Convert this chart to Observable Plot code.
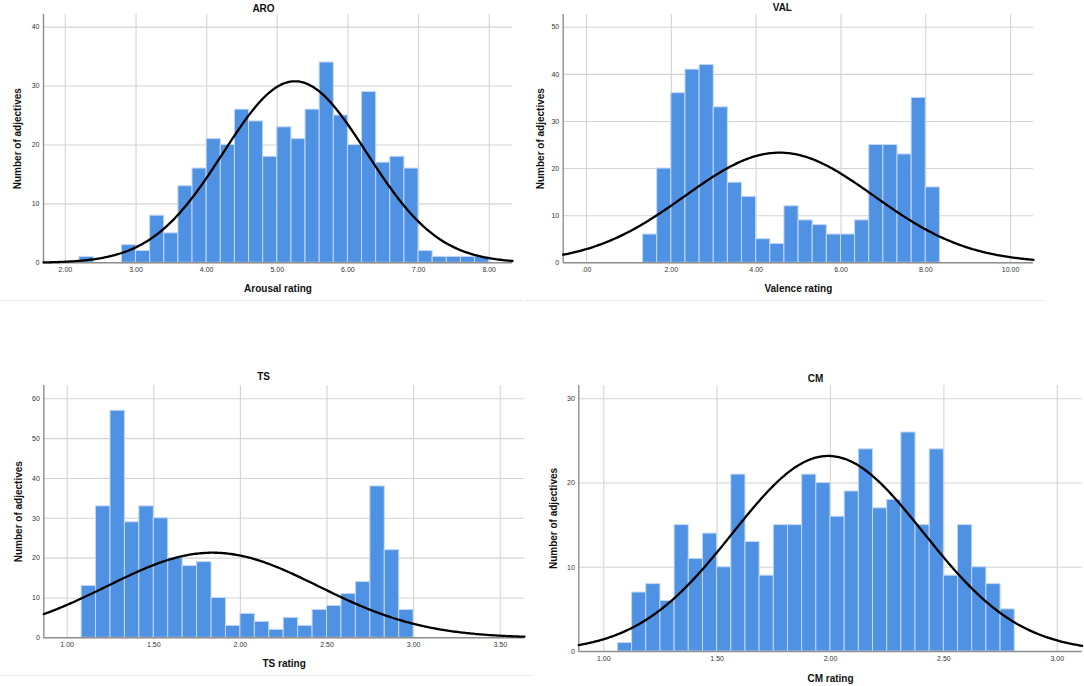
<!DOCTYPE html>
<html>
<head>
<meta charset="utf-8">
<script src="https://cdn.jsdelivr.net/npm/d3@7"></script>
<script src="https://cdn.jsdelivr.net/npm/@observablehq/plot@0.6"></script>
<style>
  html, body { margin: 0; padding: 0; background: #fff; }
  #root { position: relative; width: 1084px; height: 686px; overflow: hidden; font-family: "Liberation Sans", Arial, sans-serif; }
  .panel { position: absolute; }
  .sep { position: absolute; height: 0; border-top: 1.5px solid #e8e8e8; }
</style>
</head>
<body>
<div id="root"></div>
<script>
// ---------- data ----------
// ARO: bins of width 0.2 starting at 2.2
const aroCounts = [1, 0, 0, 3, 2, 8, 5, 13, 16, 21, 20, 26, 24, 18, 23, 21, 26, 34, 25, 20, 29, 17, 18, 16, 2, 1, 1, 1, 1];
const aroBinStart = 2.2;
const aroBinWidth = 0.2;
const aroFit = { mean: 5.25, sd: 1.015 };
const aroXTicks = [2, 3, 4, 5, 6, 7, 8];
const aroYTicks = [0, 10, 20, 30, 40];

// VAL: bins of width 1/3 starting at 4/3
const valCounts = [6, 20, 36, 41, 42, 33, 17, 14, 5, 4, 12, 9, 8, 6, 6, 9, 25, 25, 23, 35, 16];
const valBinStart = 4 / 3;
const valBinWidth = 1 / 3;
const valFit = { mean: 4.55, sd: 2.23 };
const valXTicks = [0, 2, 4, 6, 8, 10];
const valYTicks = [0, 10, 20, 30, 40, 50];

// TS: bins of width 1/12 starting at 13/12
const tsCounts = [13, 33, 57, 29, 33, 30, 20, 18, 19, 10, 3, 6, 4, 2, 5, 3, 7, 8, 11, 14, 38, 22, 7];
const tsBinStart = 13 / 12;
const tsBinWidth = 1 / 12;
const tsFit = { mean: 1.84, sd: 0.61 };
const tsXTicks = [1, 1.5, 2, 2.5, 3, 3.5];
const tsYTicks = [0, 10, 20, 30, 40, 50, 60];

// CM: bins of width 1/16 starting at 17/16
const cmCounts = [1, 7, 8, 6, 15, 11, 14, 10, 21, 13, 9, 15, 15, 21, 20, 16, 19, 24, 17, 18, 26, 15, 24, 9, 15, 10, 8, 5];
const cmBinStart = 17 / 16;
const cmBinWidth = 1 / 16;
const cmFit = { mean: 1.99, sd: 0.421 };
const cmXTicks = [1, 1.5, 2, 2.5, 3];
const cmYTicks = [0, 10, 20, 30];

const yLabelText = "Number of adjectives";

// ---------- layout ----------
const panels = [
  { title: "ARO", xLabel: "Arousal rating", counts: aroCounts, start: aroBinStart, bw: aroBinWidth, fit: aroFit, xTicks: aroXTicks, yTicks: aroYTicks,
    L: { left: 0, top: 0, width: 520, height: 300, mL: 43, mR: 8, mT: 14, mB: 37.7, xDomain: [1.69, 8.33], yDomain: [0, 42.15],
         titleDx: -14.5, titleDy: -6, xLabelDy: 25.7, yLabelDx: -26 } },
  { title: "VAL", xLabel: "Valence rating", counts: valCounts, start: valBinStart, bw: valBinWidth, fit: valFit, xTicks: valXTicks, yTicks: valYTicks,
    L: { left: 528, top: 0, width: 556, height: 300, mL: 34.7, mR: 51, mT: 14, mB: 37.7, xDomain: [-0.55, 10.54], yDomain: [0, 52.7],
         titleDx: -16, titleDy: -7, xLabelDy: 25.7, yLabelDx: -22.7 } },
  { title: "TS", xLabel: "TS rating", counts: tsCounts, start: tsBinStart, bw: tsBinWidth, fit: tsFit, xTicks: tsXTicks, yTicks: tsYTicks,
    L: { left: 0, top: 370, width: 530, height: 316, mL: 43.3, mR: 6, mT: 15, mB: 48.7, xDomain: [0.865, 3.64], yDomain: [0, 63.34],
         titleDx: -20.6, titleDy: -8.3, xLabelDy: 25.7, yLabelDx: -25.3 } },
  { title: "CM", xLabel: "CM rating", counts: cmCounts, start: cmBinStart, bw: cmBinWidth, fit: cmFit, xTicks: cmXTicks, yTicks: cmYTicks,
    L: { left: 528, top: 370, width: 556, height: 316, mL: 50.3, mR: 2.3, mT: 15, mB: 35, xDomain: [0.89, 3.11], yDomain: [0, 31.58],
         titleDx: -15, titleDy: -7, xLabelDy: 27, yLabelDx: -25.3 } }
];

const fmt = v => d3.format(".2f")(v).replace(/^0\./, ".");
const FONT = "'Liberation Sans', Arial, sans-serif";

function drawPanel(p) {
  const L = p.L;
  const bins = p.counts
    .map((c, i) => ({ x1: p.start + i * p.bw, x2: p.start + (i + 1) * p.bw, count: c }))
    .filter(d => d.count > 0);
  const n = d3.sum(p.counts);
  const [a, b] = L.xDomain;
  const steps = 300;
  const curve = d3.range(steps + 1).map(i => {
    const x = a + (b - a) * i / steps;
    const z = (x - p.fit.mean) / p.fit.sd;
    return { x, y: n * p.bw * Math.exp(-z * z / 2) / (p.fit.sd * Math.sqrt(2 * Math.PI)) };
  });
  return Plot.plot({
    width: L.width, height: L.height,
    marginLeft: L.mL, marginRight: L.mR, marginTop: L.mT, marginBottom: L.mB,
    x: { domain: L.xDomain },
    y: { domain: L.yDomain },
    style: { fontFamily: FONT, background: "transparent", overflow: "visible" },
    marks: [
      Plot.gridY(p.yTicks, { stroke: "#d4d4d4", strokeOpacity: 1, strokeWidth: 1.1 }),
      Plot.gridX(p.xTicks, { stroke: "#d4d4d4", strokeOpacity: 1, strokeWidth: 1.1 }),
      Plot.rectY(bins, { x1: "x1", x2: "x2", y: "count", fill: "#4f91e3", stroke: "#c2d8f5", strokeWidth: 1 }),
      Plot.ruleY([0], { stroke: "#8e8e8e", strokeWidth: 1.4 }),
      Plot.ruleX([L.xDomain[0]], { stroke: "#8e8e8e", strokeWidth: 1.4 }),
      Plot.line(curve, { x: "x", y: "y", stroke: "#000", strokeWidth: 2.3 }),
      Plot.axisX(p.xTicks, { tickSize: 0, tickPadding: 4.5, tickFormat: fmt, fontSize: 7, fill: "#333", label: null }),
      Plot.axisY(p.yTicks, { tickSize: 0, tickPadding: 4, fontSize: 7, fill: "#333", label: null }),
      Plot.text([p.title], { text: d => d, frameAnchor: "top", dx: L.titleDx, dy: L.titleDy, lineAnchor: "middle",
        fontWeight: "bold", fontSize: 10, fill: "#111" }),
      Plot.text([p.xLabel], { text: d => d, frameAnchor: "bottom", dy: L.xLabelDy, lineAnchor: "middle",
        fontWeight: "bold", fontSize: 10, fill: "#111" }),
      Plot.text([yLabelText], { text: d => d, frameAnchor: "left", dx: L.yLabelDx, rotate: -90,
        textAnchor: "middle", lineAnchor: "middle", fontWeight: "bold", fontSize: 10, fill: "#111" })
    ]
  });
}

const root = document.getElementById("root");
for (const p of panels) {
  const div = document.createElement("div");
  div.className = "panel";
  div.style.left = p.L.left + "px";
  div.style.top = p.L.top + "px";
  div.appendChild(drawPanel(p));
  root.appendChild(div);
}
// light panel separators
[[0, 300, 522], [524, 300, 521], [0, 675, 533]].forEach(([l, t, w]) => {
  const s = document.createElement("div");
  s.className = "sep";
  s.style.left = l + "px"; s.style.top = t + "px"; s.style.width = w + "px";
  root.appendChild(s);
});
</script>
</body>
</html>
